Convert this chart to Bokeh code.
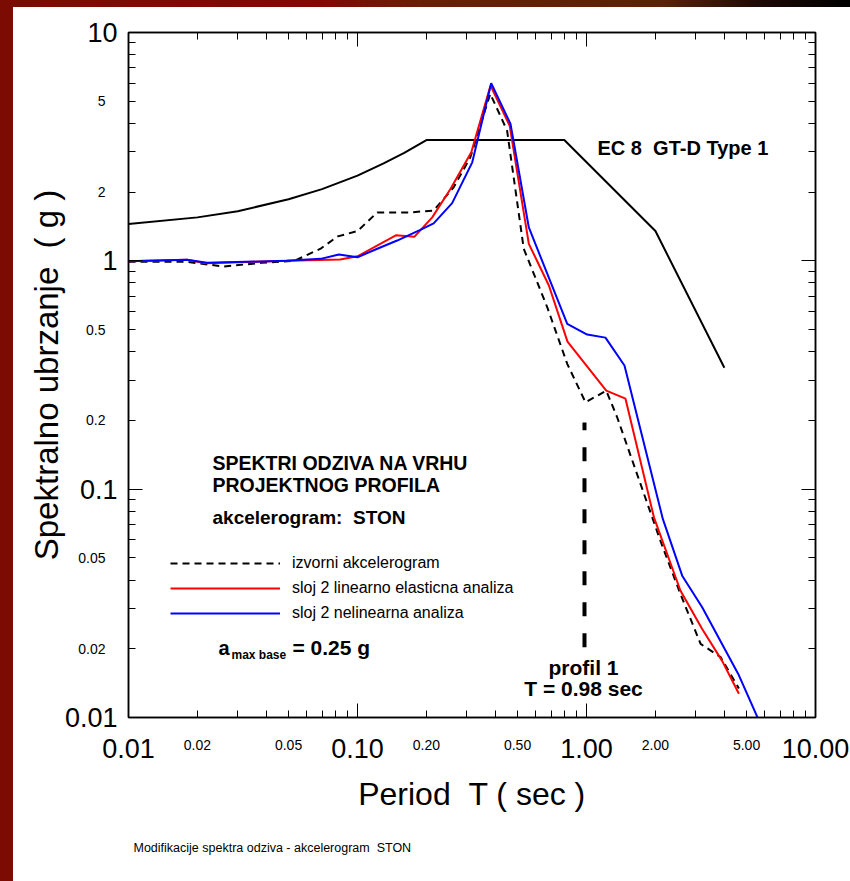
from bokeh.plotting import figure
from bokeh.models import LogAxis, FixedTicker, Label, Legend, LegendItem, Div, Title
from bokeh.layouts import column, row
from bokeh.embed import file_html
from bokeh.resources import INLINE

# ---------------- data ----------------
period_ec8 = [0.01, 0.02, 0.03, 0.05, 0.07, 0.10, 0.13, 0.16, 0.20, 0.80, 2.00, 4.00]
sa_ec8 = [1.45, 1.55, 1.65, 1.86, 2.06, 2.36, 2.67, 2.97, 3.38, 3.38, 1.35, 0.34]

period_izvorni = [0.01, 0.018, 0.026, 0.038, 0.053, 0.069, 0.082, 0.10, 0.122, 0.17,
                  0.215, 0.263, 0.311, 0.380, 0.450, 0.532, 0.674, 0.824, 0.99, 1.22,
                  1.36, 2.10, 2.57, 3.15, 3.85, 4.63]
sa_izvorni = [0.99, 0.99, 0.944, 0.98, 1.00, 1.13, 1.28, 1.35, 1.63, 1.63,
              1.66, 2.10, 2.84, 5.39, 3.72, 1.13, 0.626, 0.354, 0.24, 0.27,
              0.207, 0.0596, 0.0348, 0.021, 0.0184, 0.0134]

period_linearno = [0.01, 0.018, 0.0217, 0.049, 0.084, 0.10, 0.147, 0.177, 0.212, 0.255,
                   0.314, 0.381, 0.462, 0.56, 0.685, 0.826, 1.22, 1.48, 1.97, 2.57,
                   3.20, 3.91, 4.63]
sa_linearno = [0.996, 1.01, 0.976, 1.00, 1.013, 1.047, 1.294, 1.274, 1.55, 2.07,
               2.99, 5.86, 3.90, 1.187, 0.78, 0.443, 0.27, 0.249, 0.0753, 0.036,
               0.0244, 0.0177, 0.0127]

period_nelinearno = [0.01, 0.018, 0.022, 0.049, 0.069, 0.083, 0.10, 0.122, 0.149, 0.188,
                     0.215, 0.259, 0.317, 0.3835, 0.4657, 0.56, 0.824, 1.007, 1.21, 1.465,
                     2.154, 2.617, 3.20, 4.63, 5.66]
sa_nelinearno = [0.996, 1.01, 0.98, 1.00, 1.02, 1.066, 1.037, 1.13, 1.227, 1.367,
                 1.46, 1.79, 2.70, 6.0, 3.98, 1.40, 0.53, 0.4755, 0.461, 0.348,
                 0.0741, 0.0418, 0.0304, 0.0153, 0.0097]

profile_period = [0.98, 0.98]
profile_sa = [0.0203, 0.196]

x_major = [0.01, 0.1, 1, 10]
x_major_labels = ["0.01", "0.10", "1.00", "10.00"]
x_small = [0.02, 0.05, 0.2, 0.5, 2, 5]
x_small_labels = ["0.02", "0.05", "0.20", "0.50", "2.00", "5.00"]
y_major = [0.01, 0.1, 1, 10]
y_major_labels = ["0.01", "0.1", "1", "10"]
y_small = [0.02, 0.05, 0.2, 0.5, 2, 5]
y_small_labels = ["0.02", "0.05", "0.2", "0.5", "2", "5"]

series_names = ["izvorni akcelerogram", "sloj 2 linearno elasticna analiza", "sloj 2 nelinearna analiza"]

NB = "\u00a0"

# ---------------- layout helpers ----------------
FONT = "Liberation Sans"
FL, FR, FT, FB = 128, 815, 32, 717   # frame edges in page pixels


def tx(px):
    return 10 ** (-2 + 3 * (px - FL) / (FR - FL))


def sy(py):
    return 10 ** (1 - 3 * (py - FT) / (FB - FT))


minor = [m * 10 ** e for e in (-2, -1, 0) for m in range(2, 10)]

p = figure(width=837, height=874, x_axis_type="log", y_axis_type="log",
           x_range=(0.01, 10), y_range=(0.01, 10),
           output_backend="svg", toolbar_location=None,
           min_border_left=FL - 13, min_border_top=FT - 7,
           min_border_right=850 - FR, min_border_bottom=881 - FB,
           background_fill_color="white", border_fill_color="white")
p.xgrid.visible = False
p.ygrid.visible = False
p.outline_line_color = "black"
p.outline_line_width = 1.5


def style_axis(ax, labels=None, size="27px"):
    ax.ticker = FixedTicker(ticks=x_major, minor_ticks=minor)
    ax.major_tick_in = 14
    ax.major_tick_out = 0
    ax.minor_tick_in = 7
    ax.minor_tick_out = 0
    ax.axis_line_color = "black"
    ax.axis_line_width = 1.5
    ax.major_tick_line_color = "black"
    ax.minor_tick_line_color = "black"
    ax.major_label_text_font = FONT
    ax.major_label_text_color = "black"
    ax.major_label_text_font_size = size
    if labels is not None:
        ax.major_label_overrides = labels


def small_label_axis(ax, ticks, labels):
    ax.ticker = FixedTicker(ticks=ticks)
    ax.major_label_overrides = {v: t for v, t in zip(ticks, labels)}
    ax.major_tick_in = 0
    ax.major_tick_out = 0
    ax.minor_tick_in = 0
    ax.minor_tick_out = 0
    ax.minor_tick_line_color = None
    ax.major_tick_line_color = None
    ax.axis_line_color = None
    ax.major_label_text_font = FONT
    ax.major_label_text_color = "black"
    ax.major_label_text_font_size = "14px"


xa = p.xaxis[0]
style_axis(xa, {v: t for v, t in zip(x_major, x_major_labels)})
xa.major_label_standoff = 21
xa.axis_label = "Period" + NB + NB + "T ( sec )"
xa.axis_label_text_font = FONT
xa.axis_label_text_font_style = "normal"
xa.axis_label_text_font_size = "32px"
xa.axis_label_text_color = "black"
xa.axis_label_standoff = 15

ya = p.yaxis[0]
style_axis(ya, {v: t for v, t in zip(y_major, y_major_labels)})
ya.major_label_standoff = 11
ya.axis_label = "Spektralno ubrzanje" + NB + NB + "( g )"
ya.axis_label_text_font = FONT
ya.axis_label_text_font_style = "normal"
ya.axis_label_text_font_size = "33px"
ya.axis_label_text_color = "black"
ya.axis_label_standoff = -3

top_axis = LogAxis()
style_axis(top_axis, {v: "" for v in x_major}, "0px")
p.add_layout(top_axis, "above")
right_axis = LogAxis()
style_axis(right_axis, {v: "" for v in y_major}, "0px")
p.add_layout(right_axis, "right")

xs_axis = LogAxis()
small_label_axis(xs_axis, x_small, x_small_labels)
xs_axis.major_label_standoff = -75
p.add_layout(xs_axis, "below")

ys_axis = LogAxis()
small_label_axis(ys_axis, y_small, y_small_labels)
ys_axis.major_label_standoff = -81
p.add_layout(ys_axis, "left")

# ---------------- series ----------------
p.line(period_ec8, sa_ec8, line_color="black", line_width=2)
r_iz = p.line(period_izvorni, sa_izvorni, line_color="black", line_width=2, line_dash="7 5")
r_lin = p.line(period_linearno, sa_linearno, line_color="#ff0000", line_width=2)
r_nel = p.line(period_nelinearno, sa_nelinearno, line_color="#0000ff", line_width=2)
p.line(profile_period, profile_sa, line_color="black", line_width=4, line_dash="14 17")

legend = Legend(items=[LegendItem(label=series_names[0], renderers=[r_iz]),
                       LegendItem(label=series_names[1], renderers=[r_lin]),
                       LegendItem(label=series_names[2], renderers=[r_nel])],
                location=(170 - FL, FB - 623), glyph_width=110, glyph_height=20,
                label_height=20, spacing=5, padding=0, margin=0, label_standoff=12,
                label_text_font=FONT, label_text_font_size="16px", label_text_color="black",
                background_fill_alpha=0, border_line_color=None)
p.add_layout(legend)


def note(px, py, text, size, bold=True, align="left"):
    p.add_layout(Label(x=tx(px), y=sy(py), text=text, text_align=align, text_baseline="middle",
                       text_font=FONT, text_font_size=size,
                       text_font_style="bold" if bold else "normal", text_color="black"))


note(597, 147, "EC 8" + NB + NB + "GT-D Type 1", "20px")
note(212, 462, "SPEKTRI ODZIVA NA VRHU", "19.5px")
note(212, 484, "PROJEKTNOG PROFILA", "19.5px")
note(212, 517, "akcelerogram:" + NB + NB + "STON", "19px")
note(218, 647, "a", "20px")
note(231, 654, "max base", "12px")
note(292, 647, "= 0.25 g", "21px")
note(583, 667, "profil 1", "21px", align="center")
note(583, 688, "T = 0.98 sec", "21px", align="center")

footer = Title(text="Modifikacije spektra odziva - akcelerogram" + NB + NB + "STON",
               align="left", offset=5, standoff=49,
               text_font=FONT, text_font_size="12.5px", text_font_style="normal", text_color="black")
p.add_layout(footer, "below")

# ---------------- page frame strips ----------------
top_strip = Div(text="", width=850, height=7, margin=0,
                styles={"background": "linear-gradient(to right, #7a0c03 0%, #820806 38%, #6a1e06 50%, #5a2208 78%, #1a0805 90%, #000000 100%)"})
left_strip = Div(text="", width=13, height=874, margin=0,
                 styles={"background": "#7c0b03"})
layout = column(top_strip, row(left_strip, p, spacing=0), spacing=0)

open("out.html", "w").write(file_html(layout, INLINE))
